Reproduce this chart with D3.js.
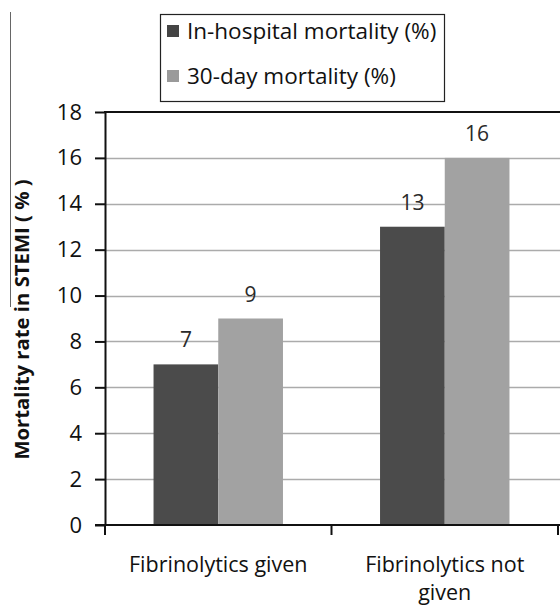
<!DOCTYPE html>
<html>
<head>
<meta charset="utf-8">
<script src="https://cdn.jsdelivr.net/npm/d3@7/dist/d3.min.js"></script>
<style>
  html, body { margin: 0; padding: 0; background: #fff; }
  svg { display: block; font-family: "Open Sans", Lato, sans-serif; }
</style>
</head>
<body>
<svg id="chart" width="560" height="606"></svg>
<script>
// Chart data
const categories = ["Fibrinolytics given", "Fibrinolytics not given"];
const categoryLines = [["Fibrinolytics given"], ["Fibrinolytics not", "given"]];
const seriesNames = ["In-hospital mortality (%)", "30-day mortality (%)"];
const inHospital = [7, 13];
const thirtyDay = [9, 16];
const yTicks = [0, 2, 4, 6, 8, 10, 12, 14, 16, 18];
const yTitle = "Mortality rate in STEMI ( % )";

const colors = ["#4b4b4b", "#a2a2a2"];
const legendColors = ["#444444", "#9a9a9a"];
const FONT = "'Open Sans', Lato, sans-serif";

const svg = d3.select("#chart");

const plot = { left: 105, right: 558, top: 112, bottom: 525 };

const y = d3.scaleLinear().domain([0, 18]).range([plot.bottom, plot.top]);
const x0 = d3.scaleBand().domain(categories).range([plot.left, plot.right]).paddingInner(0).paddingOuter(0);
const barW = x0.bandwidth() / 3.5;
const x1 = d3.scaleBand().domain(seriesNames).range([0, barW * 2]);

const rows = categories.map((c, i) => ({
  cat: c,
  vals: [
    { name: seriesNames[0], v: inHospital[i], k: 0 },
    { name: seriesNames[1], v: thirtyDay[i], k: 1 }
  ]
}));

// thin frame line on the left edge
svg.append("line")
  .attr("x1", 10.5).attr("x2", 10.5).attr("y1", 12).attr("y2", 307)
  .attr("stroke", "#666").attr("stroke-width", 1);

// gridlines
svg.append("g").selectAll("line")
  .data(yTicks.filter(t => t > 0 && t < 18))
  .join("line")
  .attr("x1", plot.left).attr("x2", 560)
  .attr("y1", d => Math.round(y(d)) + 0.5).attr("y2", d => Math.round(y(d)) + 0.5)
  .attr("stroke", "#ababab").attr("stroke-width", 1.6);

// top border of plot area
svg.append("line")
  .attr("x1", plot.left - 1).attr("x2", 560)
  .attr("y1", y(18)).attr("y2", y(18))
  .attr("stroke", "#111").attr("stroke-width", 2.2);

// bars
const groups = svg.append("g").selectAll("g")
  .data(rows).join("g")
  .attr("transform", d => `translate(${x0(d.cat) + (x0.bandwidth() - barW * 2) / 2},0)`);

groups.selectAll("rect")
  .data(d => d.vals).join("rect")
  .attr("x", d => x1(d.name))
  .attr("width", x1.bandwidth())
  .attr("y", d => y(d.v))
  .attr("height", d => y(0) - y(d.v))
  .attr("fill", d => colors[d.k]);

// value labels
groups.selectAll("text")
  .data(d => d.vals).join("text")
  .attr("x", d => x1(d.name) + x1.bandwidth() / 2)
  .attr("y", d => y(d.v) - 17)
  .attr("text-anchor", "middle")
  .attr("font-size", 21)
  .attr("fill", "#2a2a2a")
  .text(d => d.v);

// y axis
const yAxis = svg.append("g")
  .attr("transform", `translate(${plot.left},0)`)
  .call(d3.axisLeft(y).tickValues(yTicks).tickSize(10).tickPadding(13).tickSizeOuter(0));
yAxis.select(".domain").attr("stroke", "#111").attr("stroke-width", 2);
yAxis.selectAll(".tick line").attr("stroke", "#111").attr("stroke-width", 2);
yAxis.selectAll(".tick text")
  .attr("font-family", FONT)
  .attr("font-size", 22).attr("fill", "#111");

// x axis
const xAxisG = svg.append("g").attr("transform", `translate(0,${plot.bottom})`);
xAxisG.append("line")
  .attr("x1", plot.left - 10).attr("x2", 560)
  .attr("y1", 0).attr("y2", 0)
  .attr("stroke", "#111").attr("stroke-width", 2);
const xTickPos = categories.map(c => x0(c)).concat([plot.right]);
xAxisG.selectAll(".xtick").data(xTickPos).join("line")
  .attr("class", "xtick")
  .attr("x1", d => d).attr("x2", d => d)
  .attr("y1", 0).attr("y2", 10)
  .attr("stroke", "#111").attr("stroke-width", 2);

// category labels
svg.append("g").selectAll("text")
  .data(categories).join("text")
  .attr("x", c => x0(c) + x0.bandwidth() / 2)
  .attr("y", 572)
  .attr("text-anchor", "middle")
  .attr("font-size", 21.5)
  .attr("fill", "#111")
  .each(function(c, i) {
    d3.select(this).selectAll("tspan")
      .data(categoryLines[i]).join("tspan")
      .attr("x", x0(c) + x0.bandwidth() / 2)
      .attr("dy", (d, j) => j === 0 ? 0 : 28)
      .text(d => d);
  });

// y axis title
svg.append("text")
  .attr("transform", `translate(29,${(plot.top + plot.bottom) / 2 + 1}) rotate(-90)`)
  .attr("text-anchor", "middle")
  .attr("font-size", 20.3)
  .attr("font-weight", "bold")
  .attr("fill", "#111")
  .text(yTitle);

// legend
const legend = svg.append("g");
legend.append("rect")
  .attr("x", 160.5).attr("y", 14.5).attr("width", 284).attr("height", 87)
  .attr("fill", "#fff").attr("stroke", "#222").attr("stroke-width", 1.2);
const items = legend.selectAll("g.item").data(seriesNames).join("g")
  .attr("class", "item")
  .attr("transform", (d, i) => `translate(167,${31 + i * 45})`);
items.append("rect")
  .attr("x", 0).attr("y", -6).attr("width", 12).attr("height", 12)
  .attr("fill", (d, i) => legendColors[i]);
items.append("text")
  .attr("x", 20).attr("y", 8)
  .attr("font-size", 22.5)
  .attr("fill", "#111")
  .text(d => d);
</script>
</body>
</html>
